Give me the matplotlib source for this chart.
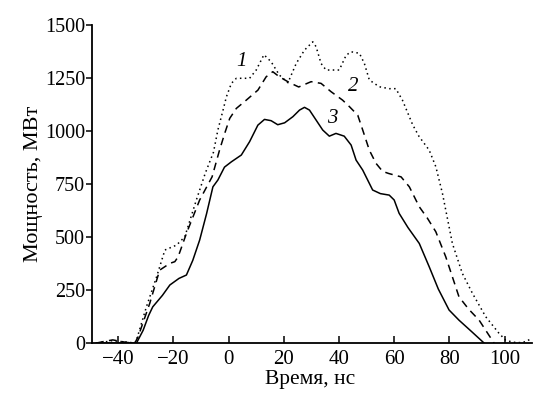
import matplotlib
matplotlib.use("Agg")
import matplotlib.pyplot as plt

# Curve 1 (dotted)
t1 = [-48, -45, -42, -40, -37, -34, -33.4, -29.8, -26.1, -23.1, -18.9, -15.9, -11.7, -8.5, -5.5,
      -3.9, -2, -0.8, 1, 2.8, 7.6, 10, 12.8, 15.4, 18.4, 21.5, 24.5, 27.5, 30.5, 31.7, 33.5,
      35.3, 40.1, 42.6, 44.4, 47.4, 49.2, 51, 54.6, 58.2, 60.6, 63, 66.7, 69, 72.7, 75.1,
      77.5, 81.1, 84.7, 88.4, 93.2, 98, 100.4, 103, 106, 108, 110]
p1 = [0, 5, 12, 8, 5, 0, 14, 171, 313, 439, 462, 501, 675, 800, 900,
      1005, 1100, 1162, 1225, 1249, 1249, 1288, 1360, 1327, 1264, 1228, 1319, 1382, 1421, 1398, 1319,
      1288, 1288, 1358, 1374, 1367, 1319, 1241, 1209, 1200, 1200, 1146, 1030, 975, 910, 832,
      706, 470, 329, 234, 124, 46, 14, 4, 2, 8, 25]

# Curve 2 (dashed)
t2 = [-48, -45, -42, -40, -37, -34, -32.8, -28.6, -25, -21.3, -19.5, -18.3, -15.3, -10.5, -6,
      -3.3, -1.4, 0.4, 2.8, 6.4, 10.6, 13.6, 16, 18.4, 22, 25.4, 29.9, 33.5, 37.1, 41.3,
      43.8, 46.8, 48.6, 51, 53.4, 55.8, 58, 62.5, 65.5, 69.1, 72, 75.1, 78.7, 83.5, 87,
      90.8, 96.2]
p2 = [0, 8, 15, 10, 3, 0, 30, 187, 344, 376, 384, 407, 517, 675, 784,
      910, 990, 1060, 1107, 1146, 1193, 1256, 1280, 1256, 1229, 1208, 1233, 1225, 1186, 1146,
      1115, 1075, 1005, 910, 848, 810, 800, 784, 737, 643, 590, 525, 407, 218, 160,
      108, 0]

# Curve 3 (solid)
t3 = [-48, -40, -34, -33.4, -31, -29, -27.5, -24, -21.3, -18, -15.3, -13, -10.5, -8, -5.7,
      -3.9, -1.5, 1, 4.6, 7.6, 10.6, 13, 15.4, 17.8, 20.3, 23.3, 25.7, 27.5, 29.3, 31.7,
      34.1, 36.5, 38.9, 41.9, 44.4, 46.2, 48.6, 50.4, 52.2, 55, 58.2, 60, 61.8, 65, 69.1,
      72.7, 76, 79.9, 83.5, 88, 92.6]
p3 = [0, 0, 0, 0, 60, 130, 171, 225, 274, 305, 321, 390, 486, 610, 737,
      769, 830, 855, 887, 950, 1028, 1055, 1049, 1030, 1039, 1068, 1099, 1112, 1099, 1052,
      1005, 976, 989, 976, 934, 863, 816, 769, 722, 705, 698, 675, 612, 545, 470,
      360, 255, 156, 108, 55, 0]

x_ticks = [-40, -20, 0, 20, 40, 60, 80, 100]
y_ticks = [0, 250, 500, 750, 1000, 1250, 1500]
x_tick_labels = ['\u221240', '\u221220', '0', '20', '40', '60', '80', '100']

plt.rcParams['font.family'] = ['Liberation Serif', 'DejaVu Serif']

fig = plt.figure(figsize=(5.48, 3.98), dpi=100)
ax = fig.add_axes([0.168, 0.138, 0.803, 0.799])

ax.plot(t1, p1, color='black', lw=1.1, linestyle=(0, (1, 2.2)))
ax.plot(t2, p2, color='black', lw=1.1, linestyle=(0, (5, 3.5)))
ax.plot(t3, p3, color='black', lw=1.1, linestyle='-')

ax.set_xlim(-49.5, 110)
ax.set_ylim(0, 1500)
ax.set_xticks(x_ticks)
ax.set_yticks(y_ticks)
ax.set_xticklabels(x_tick_labels)

for s in ['top', 'right']:
    ax.spines[s].set_visible(False)
for s in ['left', 'bottom']:
    ax.spines[s].set_linewidth(1.3)

ax.tick_params(axis='x', direction='in', length=5, width=1.1, labelsize=15, pad=5)
ax.tick_params(axis='y', direction='out', length=4, width=1.1, labelsize=14.5, pad=1)

ax.set_xlabel('Время, нс', fontsize=15.5)
ax.set_ylabel('Мощность, МВт', fontsize=16)
ax.xaxis.set_label_coords(0.495, -0.085)
ax.yaxis.set_label_coords(-0.111, 0.5)

ax.text(4.6, 1327, '1', fontsize=15, style='italic', ha='center', va='center')
ax.text(45, 1209, '2', fontsize=15, style='italic', ha='center', va='center')
ax.text(37.7, 1060, '3', fontsize=15, style='italic', ha='center', va='center')

fig.savefig('out.png', dpi=100)
